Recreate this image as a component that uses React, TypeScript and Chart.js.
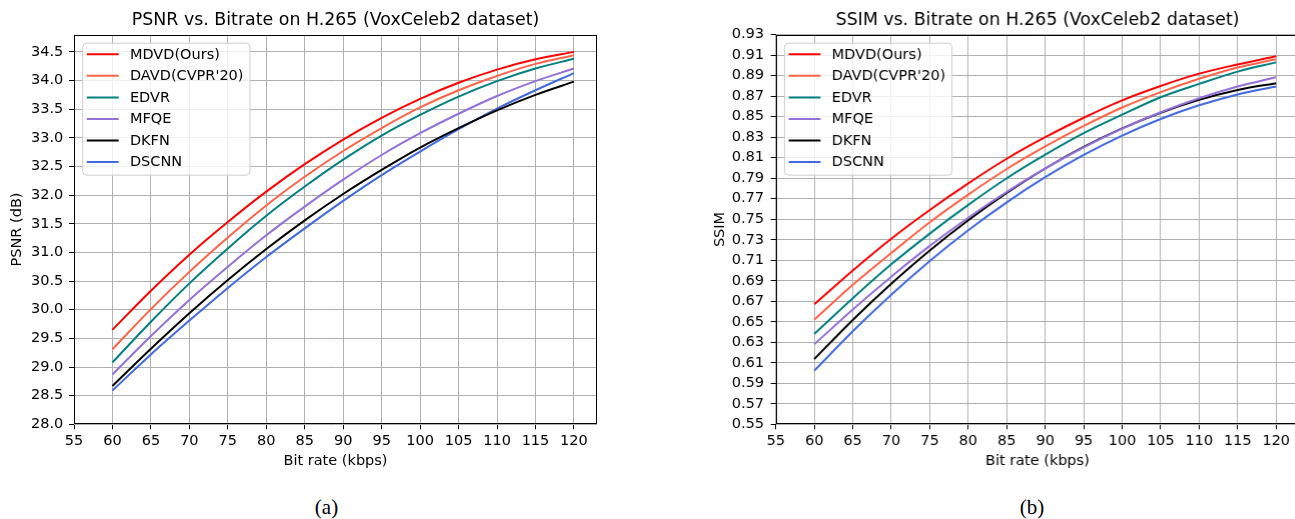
import React, { useEffect, useRef } from 'react';
import { Chart, registerables } from 'chart.js';
Chart.register(...registerables);

// ---------- data ----------
const bitrates = [60, 65, 70, 75, 80, 85, 90, 95, 100, 105, 110, 115, 120];
const seriesNames = ['MDVD(Ours)', "DAVD(CVPR'20)", 'EDVR', 'MFQE', 'DKFN', 'DSCNN'];
const seriesColors = ['#ff0000', '#ff6347', '#008080', '#9370db', '#000000', '#4169e1'];

const psnrMDVD = [29.65, 30.33, 30.96, 31.53, 32.06, 32.54, 32.97, 33.35, 33.68, 33.96, 34.19, 34.37, 34.50];
const psnrDAVD = [29.31, 30.01, 30.66, 31.26, 31.82, 32.32, 32.77, 33.17, 33.53, 33.83, 34.08, 34.29, 34.44];
const psnrEDVR = [29.08, 29.79, 30.46, 31.07, 31.64, 32.15, 32.62, 33.04, 33.40, 33.72, 33.99, 34.21, 34.38];
const psnrMFQE = [28.87, 29.54, 30.17, 30.75, 31.30, 31.80, 32.27, 32.70, 33.08, 33.42, 33.73, 33.99, 34.21];
const psnrDKFN = [28.67, 29.32, 29.94, 30.52, 31.06, 31.56, 32.02, 32.44, 32.83, 33.17, 33.48, 33.75, 33.98];
const psnrDSCNN = [28.59, 29.22, 29.81, 30.38, 30.92, 31.42, 31.90, 32.35, 32.76, 33.15, 33.51, 33.83, 34.13];

const ssimMDVD = [0.667, 0.700, 0.731, 0.759, 0.785, 0.809, 0.830, 0.849, 0.866, 0.880, 0.892, 0.901, 0.909];
const ssimDAVD = [0.652, 0.686, 0.717, 0.747, 0.774, 0.799, 0.821, 0.841, 0.859, 0.874, 0.887, 0.898, 0.906];
const ssimEDVR = [0.638, 0.673, 0.706, 0.736, 0.764, 0.790, 0.813, 0.834, 0.852, 0.869, 0.882, 0.894, 0.903];
const ssimMFQE = [0.628, 0.662, 0.694, 0.724, 0.7515, 0.7767, 0.7995, 0.8201, 0.8383, 0.8543, 0.868, 0.8794, 0.8885];
const ssimDKFN = [0.6137, 0.6518, 0.687, 0.7195, 0.749, 0.7757, 0.7995, 0.8205, 0.8386, 0.8539, 0.8664, 0.876, 0.8827];
const ssimDSCNN = [0.6023, 0.6407, 0.6763, 0.7092, 0.7392, 0.7665, 0.791, 0.8127, 0.8316, 0.8478, 0.8611, 0.8717, 0.8794];

const xTicks = [55, 60, 65, 70, 75, 80, 85, 90, 95, 100, 105, 110, 115, 120];
const psnrTicks = [28.0, 28.5, 29.0, 29.5, 30.0, 30.5, 31.0, 31.5, 32.0, 32.5, 33.0, 33.5, 34.0, 34.5];
const ssimTicks = [0.55, 0.57, 0.59, 0.61, 0.63, 0.65, 0.67, 0.69, 0.71, 0.73, 0.75, 0.77, 0.79, 0.81, 0.83, 0.85, 0.87, 0.89, 0.91, 0.93];

const FONT = '"DejaVu Sans", sans-serif';

const frameLegendPlugin = {
  id: 'frameLegend',
  afterDatasetsDraw(chart: any) {
    const { ctx, chartArea: a } = chart;
    ctx.save();
    ctx.strokeStyle = '#000';
    ctx.lineWidth = 1;
    const l = Math.round(a.left) + 0.5, t = Math.round(a.top) + 0.5;
    const r = Math.round(a.right) - 0.5, b = Math.round(a.bottom) - 0.5;
    ctx.strokeRect(l, t, r - l, b - t);
    ctx.restore();
  },
  afterDraw(chart: any) {
    const { ctx, chartArea: a } = chart;
    const ds = chart.data.datasets;
    ctx.save();
    ctx.font = '14.5px ' + FONT;
    let maxW = 0;
    ds.forEach((d: any) => { maxW = Math.max(maxW, ctx.measureText(d.label).width); });
    const x0 = a.left + 8.2, y0 = a.top + 8;
    const rowH = 21.55;
    const textX = x0 + 47.7;
    const w = textX - x0 + maxW + 6;
    const h = 132;
    ctx.beginPath();
    ctx.roundRect(x0 + 0.5, y0 + 0.5, w, h, 4);
    ctx.fillStyle = 'rgba(255,255,255,0.8)';
    ctx.fill();
    ctx.strokeStyle = '#cccccc';
    ctx.lineWidth = 1;
    ctx.stroke();
    ds.forEach((d: any, i: number) => {
      const y = y0 + 11.6 + i * rowH;
      ctx.beginPath();
      ctx.moveTo(x0 + 4.6, y);
      ctx.lineTo(x0 + 36.5, y);
      ctx.strokeStyle = d.borderColor;
      ctx.lineWidth = 2;
      ctx.stroke();
      ctx.fillStyle = '#000';
      ctx.textBaseline = 'middle';
      ctx.textAlign = 'left';
      ctx.fillText(d.label, textX, y + 0.5);
    });
    ctx.restore();
  },
};

type Props = {
  left: number;
  title: string;
  yLabel: string;
  series: number[][];
  yMin: number;
  yMax: number;
  yTicks: number[];
  decimals: number;
  yAxisW: number;
  plotW: number;
  yTitlePad: number;
  yTickPad: number;
};

function LineChart(p: Props) {
  const ref = useRef<HTMLCanvasElement>(null);
  const canvasW = p.yAxisW * 2 + p.plotW;
  const canvasH = 480;
  useEffect(() => {
    const chart = new Chart(ref.current!, {
      type: 'line',
      data: {
        datasets: p.series.map((vals, i) => ({
          label: seriesNames[i],
          data: bitrates.map((x, j) => ({ x, y: vals[j] })),
          borderColor: seriesColors[i],
          backgroundColor: seriesColors[i],
          borderWidth: 2,
          pointRadius: 0,
          cubicInterpolationMode: 'monotone' as const,
          fill: false,
        })),
      },
      options: {
        animation: false,
        responsive: false,
        maintainAspectRatio: false,
        layout: { padding: { left: 0, right: p.yAxisW, top: 0, bottom: 0 } },
        plugins: {
          legend: { display: false },
          tooltip: { enabled: false },
          title: {
            display: true,
            fullSize: false,
            text: p.title,
            color: '#000',
            font: { family: FONT, size: 17.4, weight: 'normal' },
            padding: { top: 10.4, bottom: 3.4 },
          },
        },
        scales: {
          x: {
            type: 'linear',
            min: 55,
            max: 123,
            afterBuildTicks: (axis: any) => { axis.ticks = xTicks.map((v) => ({ value: v })); },
            afterFit: (scale: any) => { scale.height = canvasH - 424.3; },
            ticks: {
              color: '#000',
              font: { family: FONT, size: 14.5 },
              padding: 3.4,
              maxRotation: 0,
              autoSkip: false,
              callback: (v: any) => String(v),
            },
            grid: { color: '#b0b0b0', lineWidth: 1, tickLength: 5, tickColor: '#000', tickWidth: 1 },
            border: { display: false },
            title: {
              display: true,
              text: 'Bit rate (kbps)',
              color: '#000',
              font: { family: FONT, size: 14.5 },
              padding: 10,
            },
          },
          y: {
            type: 'linear',
            min: p.yMin,
            max: p.yMax,
            afterBuildTicks: (axis: any) => { axis.ticks = p.yTicks.map((v) => ({ value: v })); },
            afterFit: (scale: any) => { scale.width = p.yAxisW; },
            ticks: {
              color: '#000',
              font: { family: FONT, size: 14.5 },
              padding: p.yTickPad,
              autoSkip: false,
              callback: (v: any) => Number(v).toFixed(p.decimals),
            },
            grid: { color: '#b0b0b0', lineWidth: 1, tickLength: 5, tickColor: '#000', tickWidth: 1 },
            border: { display: false },
            title: {
              display: true,
              text: p.yLabel,
              color: '#000',
              font: { family: FONT, size: 14.5 },
              padding: p.yTitlePad,
            },
          },
        },
      } as any,
      plugins: [frameLegendPlugin],
    });
    return () => chart.destroy();
  }, []);
  return (
    <canvas
      ref={ref}
      width={canvasW}
      height={canvasH}
      style={{ position: 'absolute', left: p.left, top: 0, width: canvasW, height: canvasH }}
    />
  );
}

const captionStyle = (cx: number): React.CSSProperties => ({
  position: 'absolute',
  left: cx - 50,
  width: 100,
  top: 497,
  textAlign: 'center',
  fontFamily: '"Liberation Serif", "Times New Roman", serif',
  fontSize: 21,
  lineHeight: '21px',
  color: '#000',
});

export default function App() {
  return (
    <div
      style={{
        position: 'fixed',
        left: 0,
        top: 0,
        width: 1295,
        height: 519,
        overflow: 'hidden',
        background: '#fff',
      }}
    >
      <LineChart
        left={0}
        title="PSNR vs. Bitrate on H.265 (VoxCeleb2 dataset)"
        yLabel="PSNR (dB)"
        series={[psnrMDVD, psnrDAVD, psnrEDVR, psnrMFQE, psnrDKFN, psnrDSCNN]}
        yMin={28}
        yMax={34.8}
        yTicks={psnrTicks}
        decimals={1}
        yAxisW={74}
        plotW={523}
        yTitlePad={8.8}
        yTickPad={5.7}
      />
      <LineChart
        left={700}
        title="SSIM vs. Bitrate on H.265 (VoxCeleb2 dataset)"
        yLabel="SSIM"
        series={[ssimMDVD, ssimDAVD, ssimEDVR, ssimMFQE, ssimDKFN, ssimDSCNN]}
        yMin={0.55}
        yMax={0.93}
        yTicks={ssimTicks}
        decimals={2}
        yAxisW={75.7}
        plotW={523.1}
        yTitlePad={11.8}
        yTickPad={6.7}
      />
      <div style={captionStyle(326.5)}>(a)</div>
      <div style={captionStyle(1032)}>(b)</div>
    </div>
  );
}
